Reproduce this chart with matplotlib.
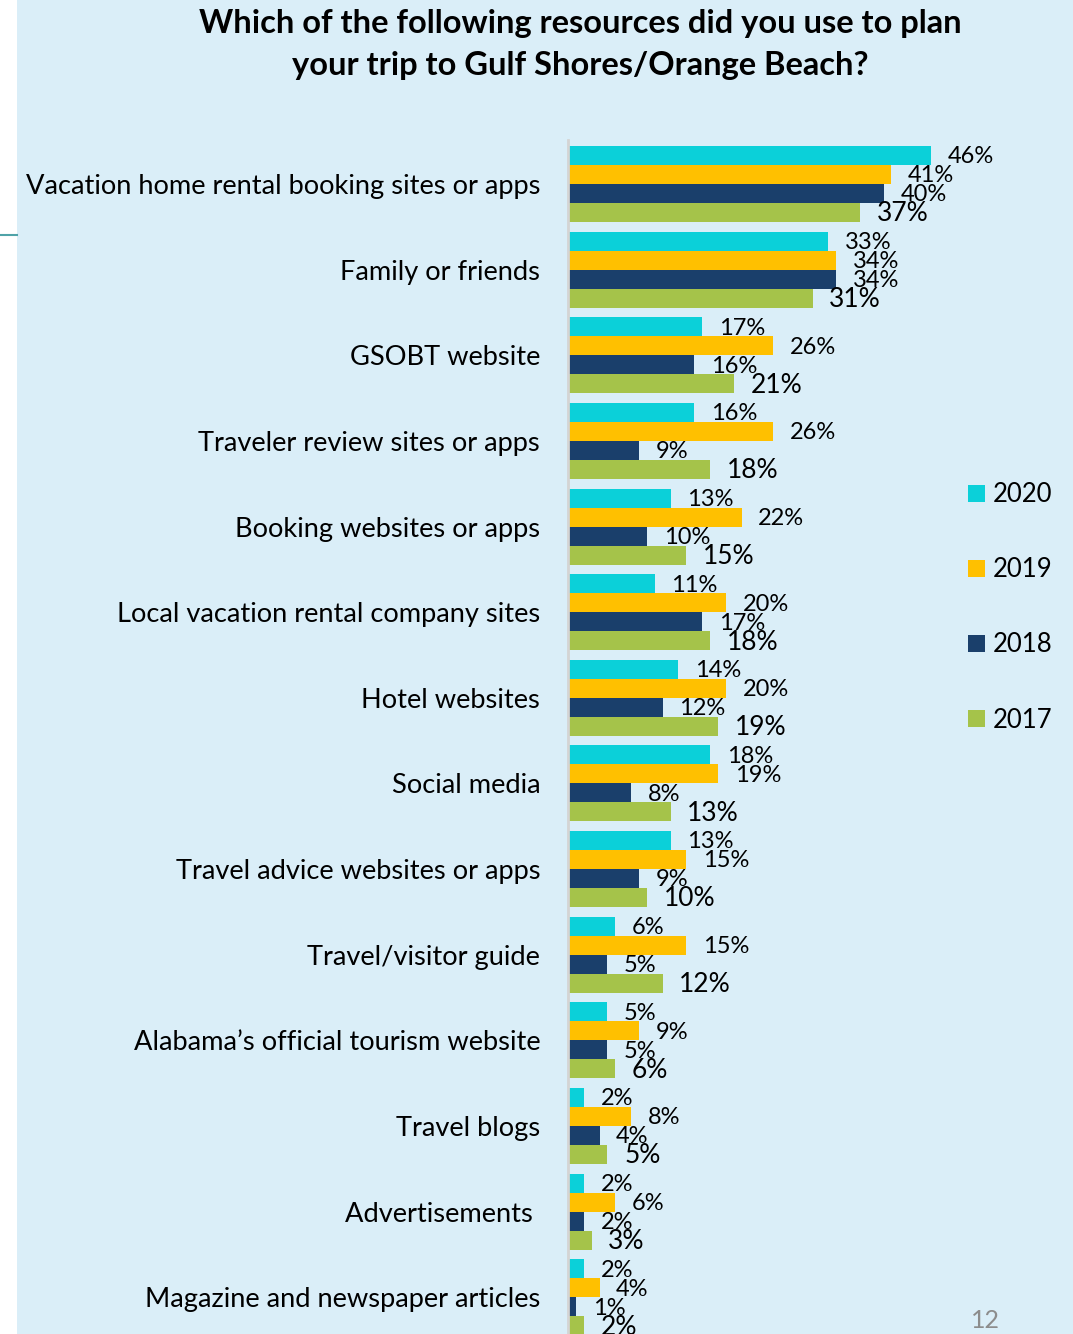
import matplotlib.pyplot as plt
from matplotlib.patches import Patch, Rectangle
from matplotlib.lines import Line2D
import numpy as np

categories = [
    "Vacation home rental booking sites or apps",
    "Family or friends",
    "GSOBT website",
    "Traveler review sites or apps",
    "Booking websites or apps",
    "Local vacation rental company sites",
    "Hotel websites",
    "Social media",
    "Travel advice websites or apps",
    "Travel/visitor guide",
    "Alabama\u2019s official tourism website",
    "Travel blogs",
    "Advertisements ",
    "Magazine and newspaper articles",
]
years = ["2020", "2019", "2018", "2017"]
v2020 = [46, 33, 17, 16, 13, 11, 14, 18, 13, 6, 5, 2, 2, 2]
v2019 = [41, 34, 26, 26, 22, 20, 20, 19, 15, 15, 9, 8, 6, 4]
v2018 = [40, 34, 16, 9, 10, 17, 12, 8, 9, 5, 5, 4, 2, 1]
v2017 = [37, 31, 21, 18, 15, 18, 19, 13, 10, 12, 6, 5, 3, 2]
colors = ["#0BD0D9", "#FFC000", "#1A3F6B", "#A5C34A"]
bg = "#DAEEF8"

W, H = 1073, 1334
fig = plt.figure(figsize=(W / 100, H / 100), dpi=100)
fig.patch.set_facecolor("white")
plt.rcParams['font.family'] = ['Lato', 'DejaVu Sans']

# light blue slide panel, white strip on left with a teal rule
fig.patches.append(Rectangle((17 / W, 0), 1 - 17 / W, 1, transform=fig.transFigure,
                             facecolor=bg, edgecolor="none", zorder=-5))
fig.lines.append(Line2D([0, 17 / W], [1 - 235 / H, 1 - 235 / H], transform=fig.transFigure,
                        color="#4FA3A8", lw=1.5, zorder=-4))

ax = fig.add_axes([568 / W, 0, 1 - 568 / W, (H - 140) / H])
ax.set_facecolor("none")

y = np.arange(len(categories))
bh = 0.222
series = [v2020, v2019, v2018, v2017]
for k, (vals, c) in enumerate(zip(series, colors)):
    pos = y + (k - 1.5) * bh
    ax.barh(pos, vals, height=bh, color=c, edgecolor="none")
    fs = 19 if k == 3 else 17
    for p, v in zip(pos, vals):
        ax.annotate(f"{v}%", (v, p), xytext=(12, -1), textcoords="offset points",
                    ha="left", va="center", fontsize=fs, color="black",
                    annotation_clip=False)

ax.set_xlim(0, (W - 568) / 7.89)
ax.set_ylim(13.43, -0.514)
ax.set_yticks(y)
ax.set_yticklabels(categories, fontsize=19.6)
ax.tick_params(axis="y", length=0, pad=20)
ax.set_xticks([])
for s in ["top", "right", "bottom"]:
    ax.spines[s].set_visible(False)
ax.spines["left"].set_color("#D4D4D4")
ax.spines["left"].set_linewidth(2)

fig.text(580 / W, 1 - 23 / H, "Which of the following resources did you use to plan",
         ha="center", va="center", fontsize=23.5, fontweight="bold")
fig.text(580 / W, 1 - 65 / H, "your trip to Gulf Shores/Orange Beach?",
         ha="center", va="center", fontsize=23.5, fontweight="bold")

handles = [Patch(facecolor=c, edgecolor="none") for c in colors]
fig.legend(handles, years, loc="upper left", bbox_to_anchor=(958 / W, 1 - 472 / H),
           frameon=False, fontsize=18.5, handlelength=0.65, handleheight=0.65,
           handletextpad=0.3, labelspacing=1.95, borderaxespad=0)

fig.text(985 / W, 1 - 1320 / H, "12", ha="center", va="center", fontsize=18, color="#8C8C8C")

fig.savefig("out.png", dpi=100, facecolor=fig.get_facecolor())
